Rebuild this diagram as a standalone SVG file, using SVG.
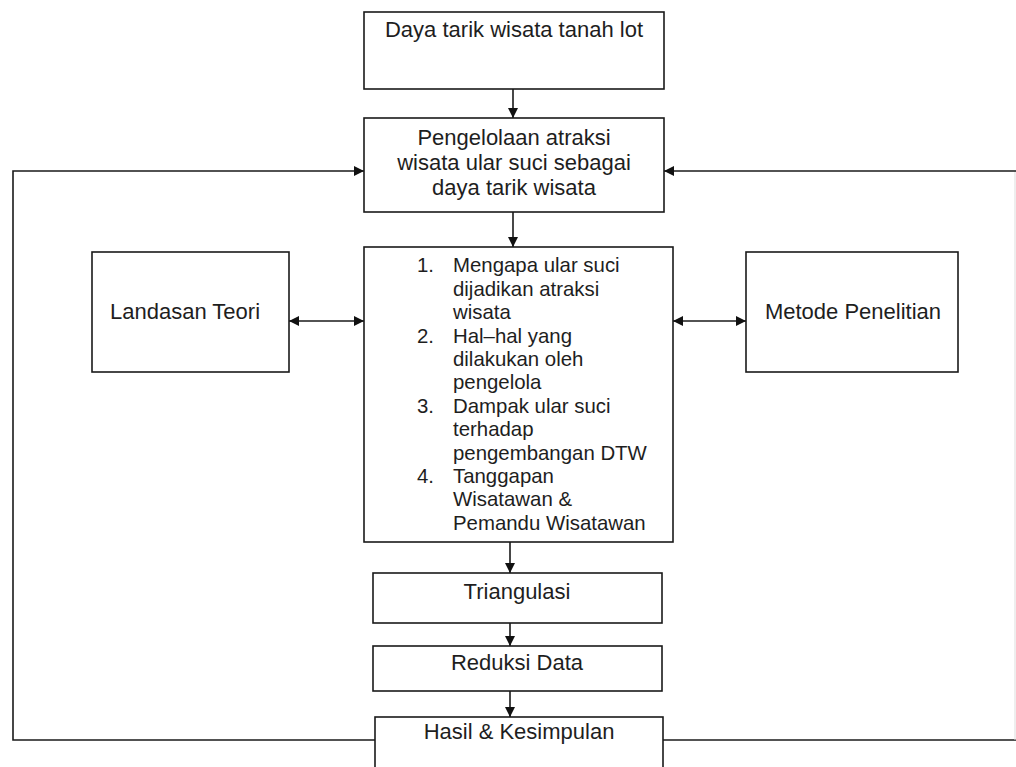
<svg xmlns="http://www.w3.org/2000/svg" width="1016" height="767" viewBox="0 0 1016 767">
<style>
.box{fill:#fff;stroke:#1a1a1a;stroke-width:1.6}
.t{font-family:"Liberation Sans",Arial,sans-serif;font-size:22px;fill:#1e1e1e;text-anchor:middle}
.l{font-family:"Liberation Sans",Arial,sans-serif;font-size:20.4px;fill:#1e1e1e}
.c{fill:none;stroke:#1a1a1a;stroke-width:1.6}
</style>
<defs>
<marker id="ah" viewBox="0 0 10 10" refX="10" refY="5" markerWidth="10" markerHeight="10" markerUnits="userSpaceOnUse" orient="auto-start-reverse">
<path d="M0,0 L10,5 L0,10 z" fill="#111"/>
</marker>
</defs>
<rect width="1016" height="767" fill="#fff"/>
<g id="connectors">
<line class="c" x1="513" y1="89" x2="513" y2="118" marker-end="url(#ah)"/>
<line class="c" x1="513" y1="212" x2="513" y2="247" marker-end="url(#ah)"/>
<line class="c" x1="289" y1="321" x2="364" y2="321" marker-start="url(#ah)" marker-end="url(#ah)"/>
<line class="c" x1="673" y1="321" x2="746" y2="321" marker-start="url(#ah)" marker-end="url(#ah)"/>
<line class="c" x1="510" y1="542" x2="510" y2="573" marker-end="url(#ah)"/>
<line class="c" x1="510" y1="623" x2="510" y2="646" marker-end="url(#ah)"/>
<line class="c" x1="510" y1="691" x2="510" y2="717" marker-end="url(#ah)"/>
<polyline class="c" points="375,740 13,740 13,171 364,171" marker-end="url(#ah)"/>
<polyline class="c" points="663,740 1016,740"/>
<line x1="1015" y1="171" x2="1015" y2="740" stroke="#ddd" stroke-width="1"/>
<line class="c" x1="1016" y1="171" x2="664" y2="171" marker-end="url(#ah)"/>
</g>
<g id="n1">
<rect class="box" x="364" y="12" width="300" height="77"/>
<text class="t" x="514" y="37">Daya tarik wisata tanah lot</text>
</g>
<g id="n2">
<rect class="box" x="364" y="118" width="300" height="94"/>
<text class="t" x="514" y="145">Pengelolaan atraksi</text>
<text class="t" x="514" y="170">wisata ular suci sebagai</text>
<text class="t" x="514" y="195">daya tarik wisata</text>
</g>
<g id="n3">
<rect class="box" x="364" y="247" width="309" height="295"/>
<g class="l">
<text x="417" y="272">1.</text>
<text x="453" y="272">Mengapa ular suci</text>
<text x="453" y="296">dijadikan atraksi</text>
<text x="453" y="319">wisata</text>
<text x="417" y="343">2.</text>
<text x="453" y="343">Hal–hal yang</text>
<text x="453" y="366">dilakukan oleh</text>
<text x="453" y="389">pengelola</text>
<text x="417" y="413">3.</text>
<text x="453" y="413">Dampak ular suci</text>
<text x="453" y="436">terhadap</text>
<text x="453" y="460">pengembangan DTW</text>
<text x="417" y="483">4.</text>
<text x="453" y="483">Tanggapan</text>
<text x="453" y="506">Wisatawan &amp;</text>
<text x="453" y="530">Pemandu Wisatawan</text>
</g>
</g>
<g id="n4">
<rect class="box" x="92" y="252" width="197" height="120"/>
<text class="t" x="185" y="319">Landasan Teori</text>
</g>
<g id="n5">
<rect class="box" x="746" y="252" width="212" height="120"/>
<text class="t" x="853" y="319">Metode Penelitian</text>
</g>
<g id="n6">
<rect class="box" x="373" y="573" width="289" height="50"/>
<text class="t" x="517" y="599">Triangulasi</text>
</g>
<g id="n7">
<rect class="box" x="373" y="646" width="289" height="45"/>
<text class="t" x="517" y="670">Reduksi Data</text>
</g>
<g id="n8">
<rect class="box" x="375" y="717" width="288" height="60"/>
<text class="t" x="519" y="739">Hasil &amp; Kesimpulan</text>
</g>
</svg>
